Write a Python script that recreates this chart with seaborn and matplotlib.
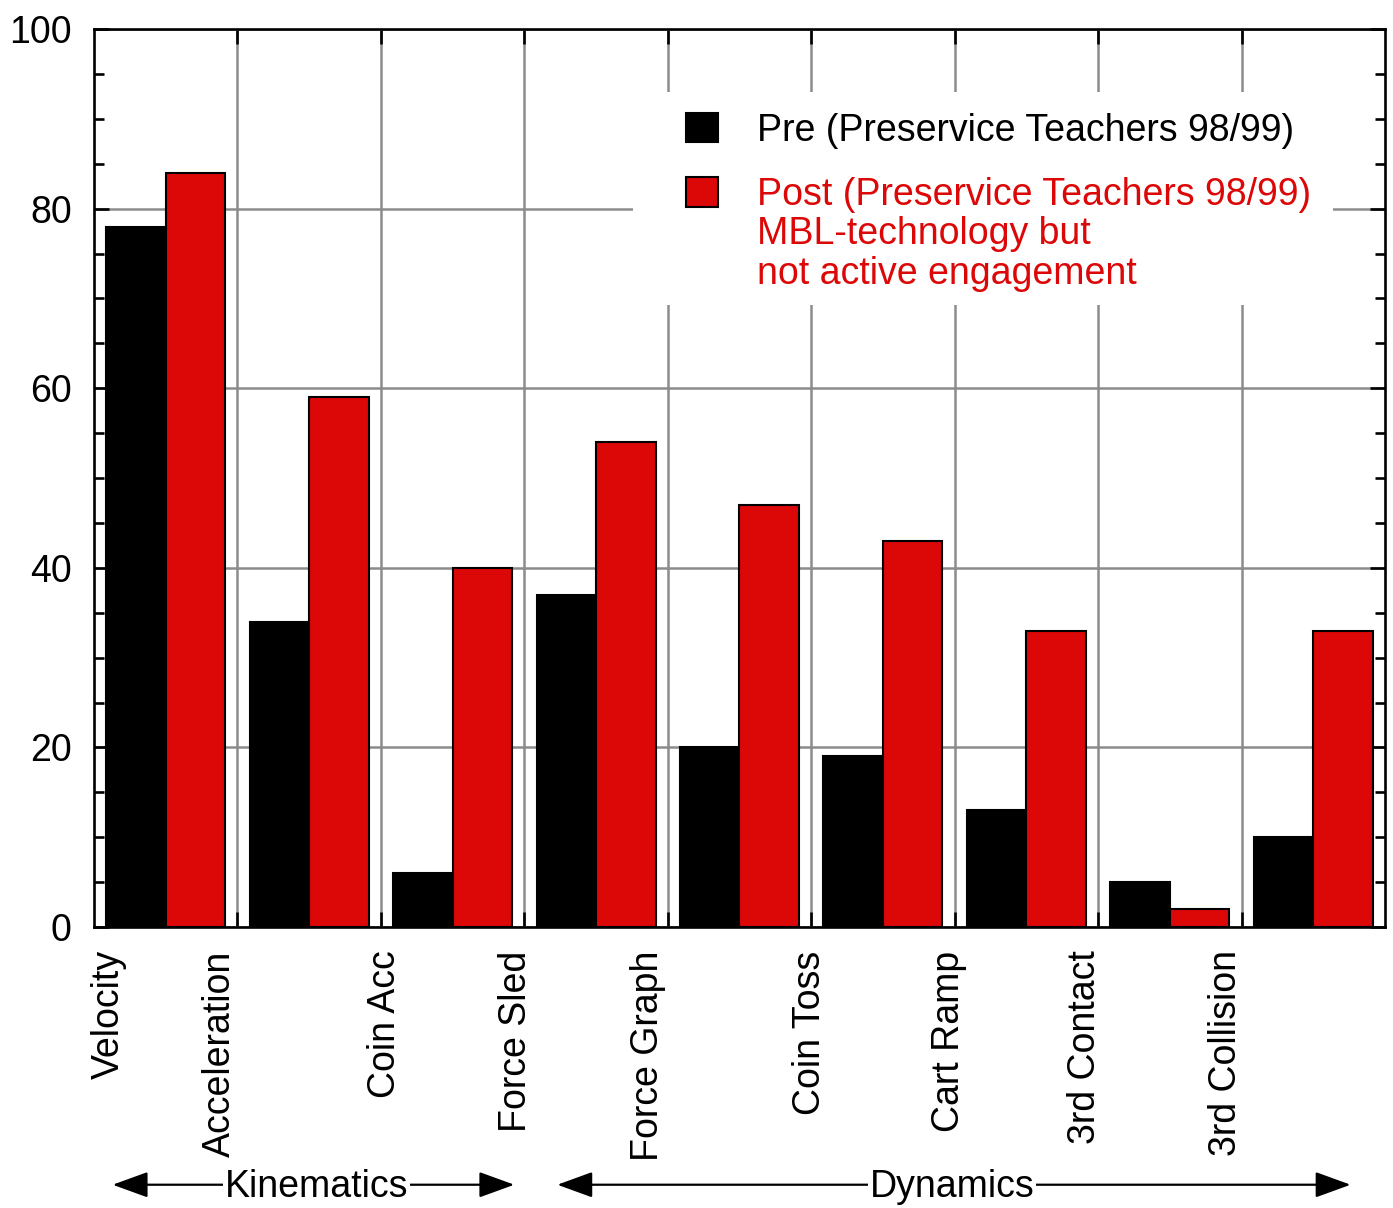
import numpy as np
import pandas as pd
import matplotlib
matplotlib.use("Agg")
import matplotlib.pyplot as plt
import seaborn as sns
from matplotlib.patches import Patch, Rectangle
from matplotlib.ticker import MultipleLocator

# ---------------- data ----------------
categories = ["Velocity", "Acceleration", "Coin Acc", "Force Sled", "Force Graph",
              "Coin Toss", "Cart Ramp", "3rd Contact", "3rd Collision"]
pre = [78, 34, 6, 37, 20, 19, 13, 5, 10]
post = [84, 59, 40, 54, 47, 43, 33, 2, 33]
series = ["Pre (Preservice Teachers 98/99)", "Post (Preservice Teachers 98/99)"]
post_note = "MBL-technology but\nnot active engagement"
# label x positions (the original places labels offset from the bar groups)
label_positions = [-0.40, 0.38, 1.53, 2.44, 3.36, 4.49, 5.46, 6.41, 7.39]
# (name, arrow start, arrow end, text centre)
groups = [("Kinematics", -0.37, 2.43, 1.05),
          ("Dynamics", 2.73, 8.26, 5.48)]
y_ticks = [0, 20, 40, 60, 80, 100]

BLACK = "#000000"
RED = "#DC0707"
GRID = "#8c8c8c"

df = pd.DataFrame({
    "category": categories * 2,
    "value": pre + post,
    "series": [series[0]] * len(categories) + [series[1]] * len(categories),
})

sns.set_style("ticks")
plt.rcParams["font.family"] = ["Liberation Sans", "DejaVu Sans"]
plt.rcParams["text.color"] = "black"
plt.rcParams["axes.labelcolor"] = "black"
plt.rcParams["xtick.color"] = "black"
plt.rcParams["ytick.color"] = "black"

fig = plt.figure(figsize=(13.93, 12.08), dpi=100)
ax = fig.add_axes([94 / 1393, 1 - 927 / 1208, (1385 - 94) / 1393, (927 - 29) / 1208])

sns.barplot(data=df, x="category", y="value", hue="series", order=categories,
            hue_order=series, palette=[BLACK, RED], saturation=1,
            width=0.83, gap=0, edgecolor="black", linewidth=1.5,
            legend=False, ax=ax, zorder=2)

ax.set_xlim(-0.5, len(categories) - 0.5)
ax.set_ylim(0, 100)
ax.set_xlabel("")
ax.set_ylabel("")

ax.set_xticks([i + 0.5 for i in range(len(categories) - 1)])
ax.set_xticklabels([])
ax.set_yticks(y_ticks)
ax.set_yticklabels([str(t) for t in y_ticks])
ax.yaxis.set_minor_locator(MultipleLocator(5))

ax.set_axisbelow(True)
ax.grid(True, which="major", color=GRID, linewidth=1.8)

ax.tick_params(axis="both", which="both", direction="in", top=True, right=True,
               width=1.9, color="black", labelcolor="black")
ax.tick_params(axis="both", which="major", length=11)
ax.tick_params(axis="both", which="minor", length=7)
ax.tick_params(axis="y", which="major", labelsize=27, pad=16)

for s in ax.spines.values():
    s.set_linewidth(1.9)
    s.set_color("black")

# category labels (rotated, below axis)
xt = ax.get_xaxis_transform()
for name, xp in zip(categories, label_positions):
    ax.text(xp, -0.026, name, transform=xt, rotation=90, ha="center", va="top",
            fontsize=27, color="black")

# group arrows
for name, x0, x1, xc in groups:
    ax.annotate("", xy=(x0, -0.287), xytext=(x1, -0.287), xycoords=xt, textcoords=xt,
                arrowprops=dict(arrowstyle="<|-|>,head_length=2.2,head_width=0.8",
                                mutation_scale=10, color="black", lw=1.6,
                                shrinkA=0, shrinkB=0),
                annotation_clip=False)
    ax.text(xc, -0.289, name, transform=xt, ha="center", va="center", fontsize=27,
            color="black", bbox=dict(facecolor="white", edgecolor="none", pad=1),
            zorder=5)

# legend background (hides gridlines)
ax.add_patch(Rectangle((0.4175, 0.6926), 0.9597 - 0.4175, 0.93 - 0.6926,
                       transform=ax.transAxes, facecolor="white", edgecolor="none",
                       zorder=1))

handles = [Patch(facecolor=BLACK, edgecolor=BLACK, linewidth=1.5),
           Patch(facecolor=RED, edgecolor=BLACK, linewidth=1.5)]
leg = ax.legend(handles=handles, labels=series, loc="upper left",
                bbox_to_anchor=(0.4586, 0.907), frameon=False, fontsize=27,
                handlelength=0.85, handleheight=0.85, handletextpad=1.05,
                labelspacing=0.76, borderpad=0, borderaxespad=0)
leg.get_texts()[0].set_color("black")
leg.get_texts()[1].set_color(RED)
leg.set_zorder(6)

ax.text(0.5136, 0.7915, post_note, transform=ax.transAxes, ha="left", va="top",
        fontsize=27, color=RED, linespacing=1.13, zorder=6)

fig.savefig("out.png", dpi=100)
